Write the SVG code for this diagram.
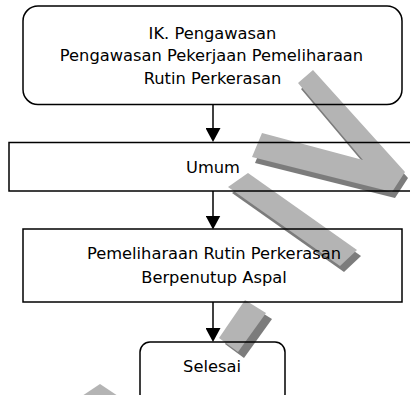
<svg xmlns="http://www.w3.org/2000/svg" width="410" height="395" viewBox="0 0 410 395">
  <style>
    .box { fill: none; stroke: #000; stroke-width: 1.5; }
    .txt { font-family: "DejaVu Sans", Verdana, sans-serif; font-size: 16.3px; fill: #000; text-anchor: middle; }
    .conn { stroke: #000; stroke-width: 1.5; fill: none; }
    .wm { fill: #b4b4b4; }
    .wms { fill: #7c7c7c; }
  </style>
  <defs>
    <marker id="arrow" viewBox="0 0 14 15" refX="12" refY="7.5" markerWidth="14" markerHeight="15" markerUnits="userSpaceOnUse" orient="auto">
      <path d="M0,0 L14,7.5 L0,15 z" fill="#000"/>
    </marker>
  </defs>
  <rect width="410" height="395" fill="#fff"/>
  <g id="watermark">
    <polygon class="wms" transform="translate(3,6)" points="298,83 313,70 405,172 392,192 252,157 262,133 363,160"/>
    <polygon class="wm" points="298,83 313,70 405,172 392,192 252,157 262,133 363,160"/>
    <polygon class="wms" transform="translate(4,6)" points="248,173 357,250 340,266 228,187"/>
    <polygon class="wm" points="248,173 357,250 340,266 228,187"/>
    <polygon class="wms" transform="translate(6,6)" points="245,300 266,313 238,352 219,338"/>
    <polygon class="wm" points="245,300 266,313 238,352 219,338"/>
    <polygon class="wm" points="100,384 118,396 82,396"/>
  </g>
  <g id="connectors">
    <line class="conn" x1="213" y1="105" x2="213" y2="140" marker-end="url(#arrow)"/>
    <line class="conn" x1="213" y1="191" x2="213" y2="227.5" marker-end="url(#arrow)"/>
    <line class="conn" x1="213" y1="302" x2="213" y2="340" marker-end="url(#arrow)"/>
  </g>
  <g id="start">
    <rect class="box" x="23" y="6" width="379" height="98.5" rx="15" ry="15"/>
    <text class="txt" x="212.5" y="38.5">IK. Pengawasan</text>
    <text class="txt" x="211.5" y="61">Pengawasan Pekerjaan Pemeliharaan</text>
    <text class="txt" x="212.5" y="84">Rutin Perkerasan</text>
  </g>
  <g id="umum">
    <rect class="box" x="9" y="142.5" width="405" height="48.5"/>
    <text class="txt" x="213" y="172.5">Umum</text>
  </g>
  <g id="pemeliharaan">
    <rect class="box" x="23" y="229" width="379" height="73"/>
    <text class="txt" x="214" y="259">Pemeliharaan Rutin Perkerasan</text>
    <text class="txt" x="214" y="282.5">Berpenutup Aspal</text>
  </g>
  <g id="selesai">
    <rect class="box" x="140" y="342" width="145" height="62" rx="10" ry="10"/>
    <text class="txt" x="212" y="371.5">Selesai</text>
  </g>
</svg>
